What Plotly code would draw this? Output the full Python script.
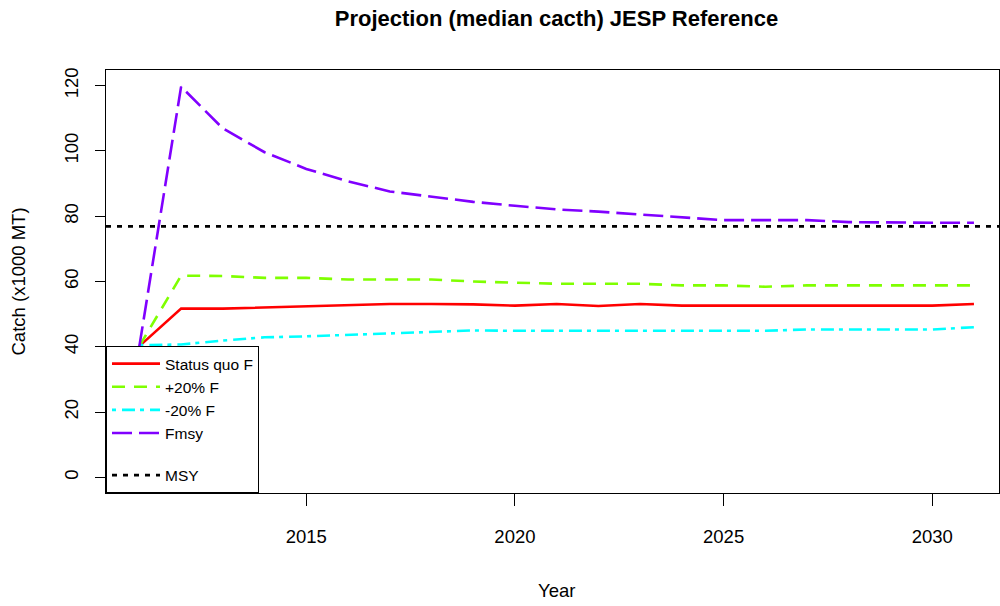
import plotly.graph_objects as go

years = list(range(2011, 2032))
status_quo = [40.2, 51.7, 51.7, 52.0, 52.4, 52.7, 53.1, 53.1, 53.0, 52.6, 53.1,
              52.5, 53.1, 52.6, 52.6, 52.6, 52.6, 52.6, 52.6, 52.6, 53.1]
plus20 = [40.2, 61.8, 61.7, 61.1, 61.1, 60.6, 60.6, 60.6, 60.0, 59.7, 59.3,
          59.3, 59.3, 58.8, 58.8, 58.4, 58.8, 58.8, 58.8, 58.8, 58.8]
minus20 = [40.5, 40.7, 41.9, 42.9, 43.2, 43.6, 44.2, 44.6, 45.0, 44.9, 44.9,
           44.9, 44.9, 44.9, 44.9, 44.9, 45.3, 45.3, 45.3, 45.3, 46.0]
fmsy = [40.2, 119.7, 106.9, 99.6, 94.5, 90.7, 87.6, 86.0, 84.4, 83.2, 82.1,
        81.4, 80.6, 79.7, 78.8, 78.8, 78.8, 78.2, 78.0, 78.0, 78.0]
msy = 76.9

x_ticks = [2015, 2020, 2025, 2030]
y_ticks = [0, 20, 40, 60, 80, 100, 120]

font = "Liberation Sans, Arial, sans-serif"

fig = go.Figure()
series = [
    ("Status quo F", status_quo, "#FF0000", "solid"),
    ("+20% F", plus20, "#7FFF00", "13px,9px"),
    ("-20% F", minus20, "#00FFFF", "4px,6px,13px,5px"),
    ("Fmsy", fmsy, "#8000FF", "20px,7px"),
]
for name, vals, col, dash in series:
    fig.add_trace(go.Scatter(x=years, y=vals, mode="lines", name=name,
                             legendgroup="proj",
                             line=dict(color=col, width=2.6, dash=dash)))

fig.add_hline(y=msy, line=dict(color="black", width=2.6, dash="5px,6px"),
              showlegend=True, name="MSY", legendgroup="ref")

fig.update_layout(
    width=1000, height=606,
    plot_bgcolor="white", paper_bgcolor="white",
    margin=dict(l=106, r=1, t=70, b=113, autoexpand=False),
    font=dict(family=font, size=18.5, color="black"),
    title=dict(text="<b>Projection (median cacth) JESP Reference</b>",
               x=(556.5 - 106) / 893, xref="paper", y=1 - 18 / 606,
               yanchor="middle", xanchor="center",
               font=dict(family=font, size=22, color="black")),
    showlegend=True,
    legend=dict(x=0, y=0, xanchor="left", yanchor="bottom",
                bgcolor="white", bordercolor="black", borderwidth=1,
                font=dict(family=font, size=15.5, color="black"),
                traceorder="grouped", tracegroupgap=19,
                itemwidth=48),
)

fig.update_xaxes(range=[2010.2, 2031.6], tickvals=x_ticks, showgrid=False,
                 zeroline=False, showline=True, mirror=True, linecolor="black",
                 linewidth=1, ticks="outside", ticklen=12, tickcolor="black",
                 ticklabelstandoff=15, automargin=False)
fig.update_yaxes(range=[-4.8, 124.8], tickvals=y_ticks, showgrid=False,
                 zeroline=False, showline=True, mirror=True, linecolor="black",
                 linewidth=1, ticks="outside", ticklen=10, tickcolor="black",
                 tickangle=-90, ticklabelstandoff=10, automargin=False)

fig.add_annotation(text="Year", xref="paper", yref="paper",
                   x=(556.5 - 106) / 893, y=(493 - 590) / 423,
                   xanchor="center", yanchor="middle", showarrow=False,
                   font=dict(family=font, size=18.5))
fig.add_annotation(text="Catch (x1000 MT)", xref="paper", yref="paper",
                   x=(18 - 106) / 893, y=0.5, textangle=-90,
                   xanchor="center", yanchor="middle", showarrow=False,
                   font=dict(family=font, size=18.5))

# page body margin would shift the figure by 8px
fig.write_html("out.html", config={"displayModeBar": False},
               post_script="document.body.style.margin='0';"
                           "document.body.style.overflow='hidden';")
